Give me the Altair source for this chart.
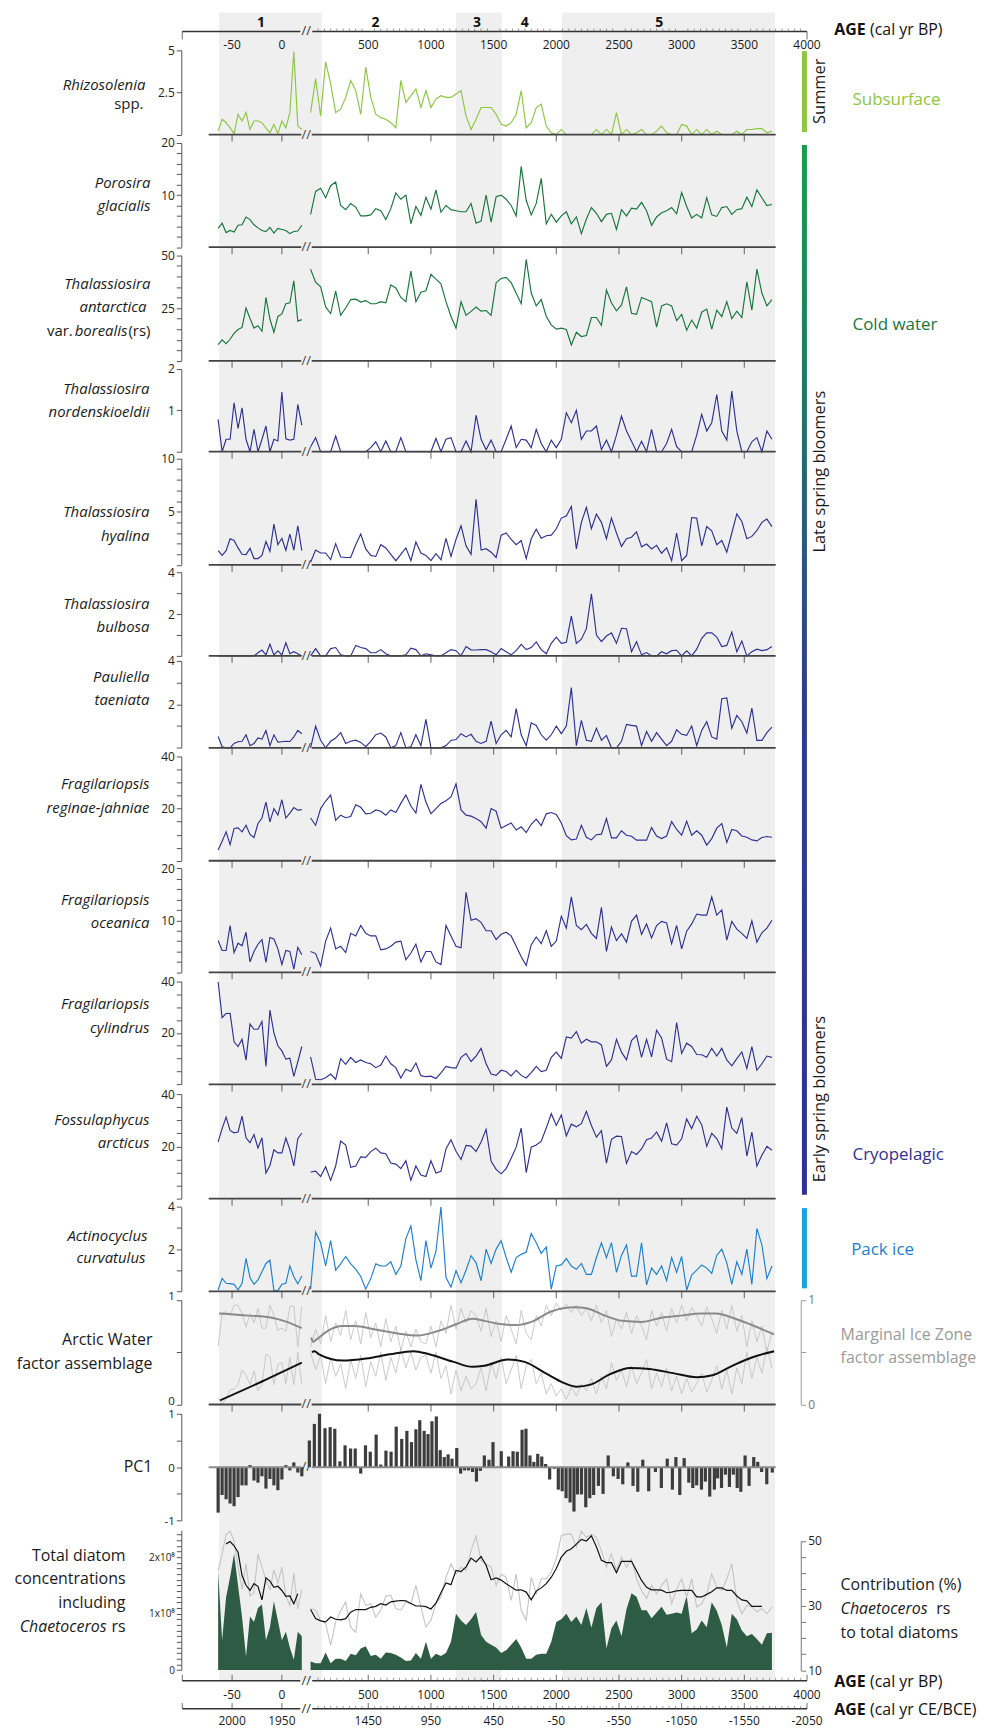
import altair as alt
import pandas as pd

# ---------------- sample ages ----------------
AGE_L = [-64, -60, -56, -52, -48, -44, -40, -36, -32, -28, -24, -20, -16, -12, -8, -4, 0, 4, 8, 12, 16, 20]
AGE_R = [40, 80, 120, 160, 200, 240, 280, 320, 360, 400, 440, 480, 520, 560, 600, 640, 680, 720, 760, 800,
         840, 880, 920, 960, 1000, 1040, 1080, 1120, 1160, 1200, 1240, 1280, 1320, 1360, 1400, 1440, 1480, 1520,
         1560, 1600, 1640, 1680, 1720, 1760, 1800, 1840, 1880, 1920, 1960, 2000, 2040, 2080, 2120, 2160, 2200,
         2240, 2280, 2320, 2360, 2400, 2440, 2480, 2520, 2560, 2600, 2640, 2680, 2720, 2760, 2800, 2840, 2880,
         2920, 2960, 3000, 3040, 3080, 3120, 3160, 3200, 3240, 3280, 3320, 3360, 3400, 3440, 3480, 3520, 3560,
         3600, 3640, 3680, 3720]

# ---------------- species series ----------------
RHIZO_L = [0.2, 0.9, 0.7, 0.4, 0.05, 1.2, 0.8, 1.3, 0.3, 0.8, 0.8, 0.7, 0.4, 0.1, 0.6, 0.05, 0.8, 0.4, 1.3, 4.9, 0.5, 0.3]
RHIZO_R = [1.3, 3.3, 1.1, 4.3, 3.0, 1.3, 1.5, 2.2, 3.2, 2.6,
           1.2, 4.0, 2.2, 1.2, 1.0, 0.9, 0.7, 0.4, 3.2, 1.9,
           2.3, 2.7, 1.6, 2.6, 1.6, 2.1, 2.3, 2.2, 2.2, 2.4,
           2.6, 1.1, 0.3, 0.9, 1.6, 1.6, 1.6, 1.2, 0.6, 0.5,
           0.7, 1.2, 2.6, 0.4, 0.7, 1.6, 1.8, 0.5, 0.1, 0.0,
           0.3, 0.0, 0.0, 0.0, 0.0, 0.0, 0.0, 0.3, 0.0, 0.3,
           0.0, 1.3, 0.0, 0.3, 0.0, 0.1, 0.3, 0.0, 0.0, 0.2,
           0.5, 0.1, 0.0, 0.0, 0.6, 0.5, 0.0, 0.3, 0.0, 0.3,
           0.0, 0.2, 0.0, 0.0, 0.0, 0.2, 0.0, 0.3, 0.3, 0.35,
           0.35, 0.1, 0.2]

POROS_L = [3.6, 4.6, 2.8, 3.2, 2.9, 4.2, 4.3, 5.8, 5.3, 4.3, 3.7, 3.2, 3.0, 3.8, 2.7, 3.6, 3.4, 3.2, 2.6, 3.0, 3.1, 4.2]
POROS_R = [6.3, 10.7, 11.3, 9.5, 11.8, 12.5, 8.0, 7.2, 8.4, 7.7,
           6.0, 6.0, 6.2, 7.4, 7.0, 5.3, 7.4, 10.4, 9.2, 10.0,
           4.5, 7.8, 6.1, 9.6, 7.3, 11.0, 6.7, 8.0, 7.2, 7.0,
           6.8, 6.8, 8.4, 4.6, 5.0, 10.0, 4.8, 9.7, 10.0, 9.2,
           8.0, 6.0, 15.5, 9.0, 6.2, 8.4, 13.2, 4.5, 6.3, 4.8,
           6.0, 6.8, 4.5, 5.8, 2.6, 5.4, 7.6, 6.5, 4.9, 6.3,
           6.5, 3.4, 7.2, 6.0, 7.5, 7.3, 8.6, 7.0, 4.2, 5.8,
           6.6, 7.0, 7.6, 6.4, 10.5, 7.8, 5.6, 6.3, 5.6, 9.5,
           6.2, 5.9, 7.6, 7.8, 6.3, 7.2, 7.4, 9.6, 7.8, 11.0,
           9.5, 8.0, 8.2]

TANT_L = [7.7, 9.9, 8.1, 10.2, 13.0, 14.8, 15.8, 25.0, 20.0, 15.5, 16.6, 14.0, 30.0, 19.8, 13.5, 21.0, 22.2, 27.0, 27.5, 37.9, 18.8, 19.5]
TANT_R = [43.4, 37.2, 35.0, 25.5, 22.4, 33.0, 21.5, 25.0, 29.0, 29.2,
          27.8, 28.5, 27.0, 27.0, 28.0, 27.5, 36.0, 34.5, 30.0, 28.0,
          42.5, 28.0, 32.5, 33.2, 41.0, 38.7, 36.5, 28.0, 21.0, 15.5,
          28.0, 21.5, 23.4, 25.5, 23.5, 23.8, 21.5, 37.0, 39.0, 39.5,
          37.0, 32.0, 27.0, 48.0, 32.1, 26.0, 29.0, 21.0, 17.0, 15.0,
          15.5, 14.8, 7.5, 13.5, 11.5, 12.0, 20.5, 20.5, 16.8, 33.5,
          27.5, 23.7, 26.5, 35.0, 22.5, 22.0, 30.0, 29.0, 28.0, 16.0,
          26.0, 27.0, 26.0, 19.0, 22.0, 14.5, 19.3, 15.5, 23.0, 24.5,
          15.0, 24.0, 21.0, 28.0, 20.0, 23.5, 20.5, 37.4, 24.0, 43.4,
          32.1, 26.0, 29.0]

TNORD_L = [0.78, 0.0, 0.3, 0.3, 1.18, 0.56, 1.06, 0.3, 0.0, 0.54, 0.0, 0.3, 0.62, 0.0, 0.3, 0.26, 1.44, 0.31, 0.28, 0.3, 1.14, 0.64]
TNORD_R = [0.12, 0.34, 0.0, 0.0, 0.0, 0.38, 0.0, 0.0, 0.0, 0.0,
           0.0, 0.0, 0.1, 0.24, 0.0, 0.26, 0.0, 0.0, 0.34, 0.0,
           0.0, 0.0, 0.0, 0.0, 0.0, 0.32, 0.0, 0.3, 0.34, 0.0,
           0.0, 0.26, 0.0, 0.88, 0.3, 0.05, 0.28, 0.0, 0.0, 0.3,
           0.62, 0.1, 0.3, 0.28, 0.1, 0.54, 0.2, 0.0, 0.28, 0.1,
           0.3, 0.94, 0.7, 1.0, 0.3, 0.5, 0.5, 0.62, 0.05, 0.28,
           0.0, 0.4, 0.86, 0.5, 0.25, 0.0, 0.25, 0.0, 0.54, 0.0,
           0.0, 0.2, 0.54, 0.12, 0.0, 0.0, 0.0, 0.4, 0.9, 0.5,
           0.7, 1.38, 0.5, 0.28, 1.46, 0.5, 0.0, 0.0, 0.24, 0.34,
           0.0, 0.5, 0.3]

THYAL_L = [1.34, 0.9, 1.34, 2.46, 2.3, 1.6, 1.0, 0.97, 1.56, 0.6, 0.6, 0.9, 2.2, 1.28, 3.83, 1.9, 2.5, 1.37, 2.9, 1.4, 3.68, 1.34]
THYAL_R = [0.25, 1.4, 1.12, 1.12, 0.5, 2.0, 0.75, 0.7, 0.7, 1.9,
           2.9, 1.5, 0.9, 0.8, 1.9, 1.6, 1.0, 0.4, 1.0, 1.6,
           0.4, 2.15, 1.12, 0.9, 0.4, 1.06, 0.5, 2.5, 0.8, 2.4,
           3.68, 1.8, 1.0, 6.17, 1.4, 1.53, 1.2, 0.7, 2.8, 3.0,
           2.4, 1.9, 2.3, 0.6, 2.46, 3.36, 2.5, 2.74, 2.8, 3.4,
           4.4, 4.6, 5.5, 1.5, 4.0, 5.4, 3.4, 4.77, 4.0, 2.46,
           4.4, 3.0, 1.74, 2.46, 2.6, 3.1, 1.7, 1.96, 1.5, 1.84,
           1.1, 1.6, 0.4, 3.0, 0.4, 0.9, 4.45, 4.4, 1.8, 3.6,
           3.2, 1.9, 2.3, 1.2, 3.0, 4.8, 4.08, 2.46, 2.68, 3.24,
           4.0, 4.3, 3.6]

TBULB_L = [0.0, 0.0, 0.0, 0.0, 0.0, 0.0, 0.0, 0.0, 0.0, 0.0, 0.15, 0.28, 0.05, 0.56, 0.05, 0.24, 0.05, 0.63, 0.1, 0.2, 0.1, 0.0]
TBULB_R = [0.0, 0.35, 0.0, 0.0, 0.35, 0.4, 0.05, 0.0, 0.0, 0.5,
           0.4, 0.35, 0.15, 0.15, 0.3, 0.1, 0.0, 0.0, 0.0, 0.05,
           0.37, 0.3, 0.0, 0.1, 0.05, 0.0, 0.0, 0.15, 0.3, 0.25,
           0.0, 0.45, 0.29, 0.28, 0.3, 0.3, 0.2, 0.05, 0.35, 0.2,
           0.05, 0.25, 0.55, 0.3, 0.4, 0.67, 0.3, 0.1, 0.6, 0.9,
           0.6, 0.65, 1.9, 0.6, 0.8, 1.3, 2.97, 1.0, 0.68, 0.95,
           1.1, 0.6, 1.32, 1.3, 0.2, 0.68, 0.05, 0.16, 0.0, 0.0,
           0.2, 0.1, 0.25, 0.27, 0.0, 0.24, 0.0, 0.32, 0.84, 1.1,
           1.1, 0.9, 0.45, 0.5, 1.14, 0.2, 0.71, 0.0, 0.2, 0.32,
           0.25, 0.3, 0.45]

PAUL_L = [0.52, 0.05, 0.0, 0.0, 0.2, 0.28, 0.3, 0.6, 0.1, 0.2, 0.45, 0.4, 0.8, 0.1, 0.6, 0.26, 0.28, 0.3, 0.29, 0.5, 0.8, 0.65]
PAUL_R = [0.0, 1.0, 0.35, 0.0, 0.3, 0.45, 0.7, 0.2, 0.3, 0.35,
          0.25, 0.05, 0.3, 0.6, 0.68, 0.5, 0.0, 0.1, 0.7, 0.0,
          0.05, 0.6, 0.1, 1.31, 0.0, 0.0, 0.0, 0.1, 0.34, 0.38,
          0.65, 0.5, 0.62, 0.3, 0.2, 0.3, 1.23, 0.2, 0.6, 0.8,
          0.5, 1.8, 0.6, 0.1, 1.15, 1.03, 0.6, 0.35, 0.6, 1.0,
          0.65, 1.0, 2.77, 0.1, 1.26, 0.35, 0.3, 0.9, 0.35, 0.57,
          0.0, 0.0, 0.3, 1.08, 1.03, 1.0, 0.1, 0.75, 0.3, 0.7,
          0.4, 0.1, 0.3, 0.83, 0.62, 0.57, 1.0, 0.1, 0.8, 1.2,
          0.5, 0.4, 2.26, 2.3, 0.9, 1.49, 1.2, 0.68, 1.83, 0.34,
          0.34, 0.7, 0.95]

FREG_L = [4.1, 7.5, 11.1, 6.2, 12.4, 12.6, 11.1, 13.6, 10.1, 8.9, 14.3, 16.4, 22.5, 14.9, 20.0, 17.5, 23.4, 16.4, 18.3, 20.4, 19.4, 19.6]
FREG_R = [16.4, 13.6, 20.0, 22.9, 25.2, 15.5, 17.5, 16.5, 17.0, 21.5,
          20.5, 18.0, 18.2, 19.5, 19.0, 17.5, 19.5, 18.5, 22.0, 25.2,
          21.0, 18.3, 29.3, 22.5, 18.0, 20.0, 22.0, 23.0, 24.5, 29.5,
          19.5, 17.5, 17.1, 16.2, 15.0, 12.5, 20.0, 19.0, 12.5, 13.5,
          14.5, 11.8, 13.0, 10.8, 14.0, 16.0, 13.5, 18.0, 18.5, 17.8,
          14.5, 9.6, 8.0, 8.3, 13.6, 9.0, 8.0, 10.0, 10.2, 16.2,
          8.8, 8.8, 11.5, 9.8, 9.4, 7.9, 7.9, 7.9, 12.7, 9.5,
          8.5, 9.5, 15.0, 12.0, 9.8, 15.2, 9.8, 11.5, 9.8, 6.0,
          8.5, 12.5, 14.3, 7.0, 12.0, 11.5, 9.5, 9.0, 8.0, 7.6,
          8.9, 9.3, 9.0]

FOCE_L = [6.1, 4.2, 4.2, 9.0, 3.8, 5.6, 5.1, 7.7, 2.0, 4.0, 5.4, 6.3, 1.9, 6.7, 6.4, 4.5, 1.5, 4.2, 4.0, 0.6, 4.8, 3.4]
FOCE_R = [4.0, 3.6, 1.2, 6.0, 8.5, 4.5, 5.0, 3.8, 7.5, 7.0,
          9.0, 7.5, 7.0, 7.0, 4.3, 4.5, 5.0, 5.8, 6.0, 2.4,
          3.7, 5.4, 2.0, 4.0, 4.0, 2.0, 1.5, 9.0, 7.0, 5.0,
          4.7, 15.4, 10.0, 10.3, 9.6, 8.0, 8.0, 6.3, 7.3, 7.7,
          7.0, 5.0, 3.0, 1.3, 5.3, 6.8, 5.5, 8.0, 5.0, 6.0,
          10.8, 8.5, 14.5, 9.0, 8.2, 9.2, 7.5, 6.5, 12.5, 4.0,
          8.7, 6.1, 7.4, 5.8, 9.8, 11.0, 7.3, 9.3, 6.6, 9.0,
          9.8, 9.5, 5.5, 9.0, 4.5, 7.9, 9.3, 11.2, 11.0, 11.0,
          14.5, 11.0, 12.0, 6.2, 9.8, 8.3, 7.5, 6.5, 9.9, 5.8,
          7.6, 8.5, 10.0]

FCYL_L = [39.7, 25.9, 27.5, 27.6, 16.5, 14.7, 17.5, 9.4, 23.4, 21.4, 21.4, 24.4, 7.0, 28.8, 20.0, 15.0, 13.0, 9.8, 10.2, 3.1, 8.8, 14.7]
FCYL_R = [10.7, 2.0, 1.8, 2.6, 4.0, 2.0, 10.0, 7.8, 10.5, 8.5,
          9.5, 8.5, 8.0, 6.5, 7.5, 11.0, 8.0, 6.5, 2.5, 5.9,
          5.0, 8.3, 3.4, 3.0, 3.2, 2.3, 4.5, 7.0, 6.5, 6.3,
          10.5, 12.0, 8.9, 11.0, 14.0, 8.0, 4.0, 3.5, 5.5, 5.0,
          3.3, 5.5, 3.5, 2.5, 4.6, 7.0, 5.0, 5.5, 10.5, 12.5,
          10.1, 18.4, 18.0, 20.5, 16.0, 17.5, 16.5, 16.5, 15.3, 7.0,
          9.5, 17.5, 12.5, 9.5, 17.0, 19.0, 10.5, 17.5, 10.7, 21.0,
          18.0, 9.8, 8.8, 24.0, 12.0, 16.0, 14.7, 11.6, 11.5, 10.5,
          14.0, 11.0, 14.0, 9.5, 7.2, 10.0, 12.6, 6.2, 14.7, 5.5,
          8.0, 11.0, 10.5]

FOSS_L = [21.7, 26.8, 31.2, 26.1, 25.2, 25.5, 31.6, 23.3, 21.4, 24.5, 19.4, 23.3, 9.8, 12.7, 18.7, 17.5, 17.5, 23.2, 18.7, 12.5, 22.9, 25.1]
FOSS_R = [10.2, 10.5, 8.5, 12.2, 7.0, 12.5, 22.0, 20.5, 12.0, 12.5,
          16.0, 15.8, 18.0, 19.3, 17.5, 17.2, 13.6, 13.2, 11.5, 14.5,
          7.0, 12.5, 9.0, 8.5, 14.5, 9.8, 10.5, 19.0, 22.5, 18.1,
          15.0, 20.4, 20.1, 18.0, 21.7, 26.5, 14.3, 11.2, 9.5, 11.5,
          15.5, 19.7, 27.0, 10.0, 19.7, 20.5, 22.0, 27.0, 32.5, 28.0,
          32.0, 24.0, 28.5, 27.5, 28.7, 33.4, 28.0, 23.5, 26.0, 13.6,
          22.7, 23.9, 23.8, 13.5, 18.0, 16.9, 19.0, 22.5, 23.2, 25.5,
          22.0, 29.0, 21.0, 20.5, 22.9, 30.5, 26.8, 31.5, 28.3, 20.0,
          25.0, 23.0, 19.1, 35.0, 27.0, 25.0, 31.0, 16.3, 25.5, 12.5,
          16.6, 20.0, 18.5]

ACTI_L = [0.06, 0.61, 0.38, 0.36, 0.33, 0.06, 0.38, 1.56, 0.65, 0.33, 0.54, 0.93, 1.32, 1.48, 0.03, 0.03, 0.33, 0.38, 1.2, 0.69, 0.35, 0.72]
ACTI_R = [0.1, 2.8, 2.3, 1.2, 2.4, 1.0, 1.3, 1.65, 1.3, 1.05,
          0.7, 0.1, 0.6, 1.3, 1.2, 1.2, 1.4, 0.8, 1.2, 2.5,
          3.1, 1.5, 0.5, 2.4, 1.1, 1.9, 4.0, 0.65, 0.2, 0.98,
          0.4, 1.0, 1.69, 1.35, 0.5, 2.0, 1.32, 2.0, 2.4, 1.6,
          0.9, 1.6, 1.75, 1.85, 2.74, 2.3, 1.8, 2.1, 0.1, 1.2,
          1.25, 1.55, 1.2, 1.04, 1.32, 0.8, 0.8, 1.6, 2.3, 1.59,
          2.31, 0.9, 1.7, 2.2, 0.72, 0.72, 2.3, 0.3, 1.1, 0.8,
          1.2, 0.5, 1.6, 0.9, 1.65, 0.05, 0.77, 1.0, 1.25, 1.1,
          0.85, 1.7, 2.0, 1.35, 0.33, 1.4, 0.8, 2.0, 0.33, 2.98,
          2.2, 0.6, 1.2]

# ---------------- factor assemblages ----------------
MIZ_RAW_L = [0.56, 0.87, 0.89, 0.85, 0.95, 0.95, 0.87, 0.74, 0.87, 0.78, 0.92, 0.73, 0.73, 0.95, 0.85, 0.71, 0.73, 0.7, 0.94, 0.94, 0.55, 0.94]
MIZ_RAW_R = [0.55, 0.72, 0.58, 0.85, 0.6, 0.78, 0.66, 0.9, 0.62, 0.8,
             0.58, 0.88, 0.64, 0.78, 0.55, 0.82, 0.6, 0.75, 0.52, 0.7,
             0.55, 0.72, 0.6, 0.58, 0.75, 0.55, 0.8, 0.68, 0.95, 0.72,
             0.92, 0.78, 0.9, 0.85, 0.7, 0.92, 0.65, 0.8, 0.6, 0.85,
             0.72, 0.58, 0.9, 0.68, 0.62, 0.85, 0.75, 0.95, 0.85, 0.97,
             0.9, 0.96, 0.88, 0.95, 0.85, 0.92, 0.8, 0.95, 0.78, 0.9,
             0.65, 0.82, 0.72, 0.88, 0.68, 0.85, 0.75, 0.62, 0.9, 0.75,
             0.88, 0.7, 0.92, 0.78, 0.95, 0.8, 0.93, 0.85, 0.75, 0.93,
             0.82, 0.68, 0.9, 0.72, 0.95, 0.7, 0.85, 0.55, 0.8, 0.6,
             0.75, 0.5, 0.7]
ARC_RAW_L = [0.06, 0.0, 0.06, 0.14, 0.15, 0.19, 0.33, 0.28, 0.19, 0.32, 0.13, 0.19, 0.48, 0.46, 0.19, 0.38, 0.4, 0.2, 0.45, 0.19, 0.5, 0.19]
ARC_RAW_R = [0.5, 0.33, 0.47, 0.2, 0.45, 0.27, 0.39, 0.15, 0.43, 0.25,
             0.47, 0.17, 0.41, 0.27, 0.5, 0.23, 0.45, 0.3, 0.53, 0.35,
             0.5, 0.33, 0.45, 0.47, 0.3, 0.5, 0.25, 0.37, 0.1, 0.33,
             0.13, 0.27, 0.15, 0.2, 0.35, 0.13, 0.4, 0.25, 0.45, 0.2,
             0.33, 0.47, 0.15, 0.37, 0.43, 0.2, 0.3, 0.1, 0.2, 0.08,
             0.15, 0.05, 0.17, 0.08, 0.2, 0.13, 0.25, 0.1, 0.27, 0.15,
             0.4, 0.23, 0.33, 0.17, 0.37, 0.2, 0.3, 0.43, 0.15, 0.3,
             0.17, 0.35, 0.13, 0.27, 0.1, 0.25, 0.12, 0.2, 0.3, 0.12,
             0.23, 0.37, 0.15, 0.33, 0.1, 0.35, 0.2, 0.5, 0.25, 0.45,
             0.3, 0.55, 0.35]

MIZ_SM_AGE_L = [-63, -33, -10, 5, 20]
MIZ_SM_L = [0.87, 0.85, 0.83, 0.79, 0.73]
MIZ_SM_AGE_R = [45, 60, 85, 171, 296, 390, 547, 735, 892, 1049, 1206, 1332, 1426, 1551, 1677, 1802, 1959,
                2147, 2242, 2367, 2524, 2681, 2838, 2995, 3152, 3277, 3403, 3560, 3738]
MIZ_SM_R = [0.64, 0.60, 0.62, 0.70, 0.75, 0.75, 0.72, 0.68, 0.66, 0.70, 0.77, 0.82, 0.80, 0.77, 0.76, 0.79,
            0.89, 0.93, 0.92, 0.86, 0.80, 0.79, 0.83, 0.85, 0.87, 0.87, 0.83, 0.76, 0.67]
ARC_SM_AGE_L = [-62, -20, 20]
ARC_SM_L = [0.04, 0.22, 0.40]
ARC_SM_AGE_R = [51, 70, 108, 296, 484, 673, 861, 986, 1175, 1332, 1426, 1614, 1740, 1928, 2053, 2163, 2273,
                2430, 2587, 2744, 2932, 3120, 3245, 3403, 3560, 3738]
ARC_SM_R = [0.50, 0.51, 0.48, 0.42, 0.44, 0.48, 0.51, 0.48, 0.41, 0.36, 0.37, 0.43, 0.41, 0.29, 0.21, 0.17,
            0.19, 0.29, 0.35, 0.34, 0.30, 0.26, 0.28, 0.37, 0.45, 0.51]

# ---------------- PC1 ----------------
PC1_L = [-0.85, -0.52, -0.6, -0.68, -0.73, -0.56, -0.34, -0.34, 0.04, -0.25, -0.29, -0.17, -0.4, -0.22, -0.34, -0.43, -0.23, 0.04, -0.06, 0.09, -0.1, -0.17]
PC1_AGE_R = [30, 70, 111, 155, 196, 233, 274, 315, 359, 396, 440, 478, 516, 563, 600, 641, 682, 723, 767, 808,
             845, 880, 911, 946, 977, 1008, 1043, 1074, 1106, 1137, 1168, 1206, 1237, 1269, 1300, 1332, 1363,
             1394, 1426, 1463, 1495, 1526, 1561, 1620, 1655, 1689, 1727, 1758, 1790, 1821, 1852, 1884, 1915,
             1947, 1984, 2016, 2047, 2078, 2110, 2141, 2169, 2201, 2235, 2267, 2298, 2336, 2373, 2414, 2455,
             2493, 2530, 2571, 2612, 2650, 2690, 2737, 2791, 2838, 2885, 2926, 2954, 2985, 3020, 3057, 3089,
             3120, 3158, 3189, 3224, 3261, 3287, 3318, 3349, 3381, 3412, 3443, 3472, 3506, 3538, 3575, 3607,
             3638, 3679, 3723]
PC1_R = [0.5, 0.81, 1.0, 0.73, 0.75, 0.72, 0.11, 0.41, 0.35, 0.35,
         -0.12, 0.41, 0.29, 0.61, 0.05, 0.31, 0.29, 0.76, 0.53, 0.68,
         0.47, 0.71, 0.88, 0.68, 0.62, 0.86, 0.95, 0.32, 0.19, 0.24,
         0.16, 0.36, -0.12, -0.06, -0.06, -0.09, -0.27, -0.07, 0.22, 0.14,
         0.47, 0.0, 0.3, 0.2, 0.3, 0.29, 0.7, 0.72, 0.22, 0.1,
         0.25, 0.2, 0.06, -0.23, -0.03, -0.42, -0.45, -0.58, -0.66, -0.83,
         -0.51, -0.51, -0.75, -0.58, -0.52, -0.35, -0.5, 0.22, -0.17, -0.22,
         -0.32, 0.09, -0.35, -0.46, 0.14, -0.45, -0.09, -0.39, 0.16, -0.42,
         0.19, -0.52, 0.17, -0.29, -0.39, -0.34, -0.42, -0.27, -0.55, -0.42,
         -0.21, -0.39, -0.14, -0.37, -0.14, -0.39, -0.46, 0.22, -0.35, 0.19,
         0.1, -0.09, -0.32, -0.1]

# ---------------- total diatoms (x10^8) and Chaetoceros contribution (%) ----------------
TOT_L = [1.76, 0.53, 1.29, 1.65, 2.06, 1.5, 0.94, 0.24, 0.95, 0.85, 1.1, 1.16, 0.53, 0.76, 1.22, 0.88, 0.53, 0.68, 0.4, 0.18, 0.68, 0.6]
TOT_R = [0.15, 0.12, 0.12, 0.31, 0.12, 0.2, 0.2, 0.16, 0.29, 0.26,
         0.38, 0.42, 0.25, 0.27, 0.2, 0.31, 0.3, 0.27, 0.22, 0.16,
         0.17, 0.3, 0.2, 0.5, 0.2, 0.29, 0.25, 0.3, 0.5, 1.0,
         0.88, 0.8, 0.9, 1.03, 0.62, 0.5, 0.45, 0.4, 0.3, 0.35,
         0.45, 0.55, 0.4, 0.2, 0.2, 0.27, 0.29, 0.29, 0.5, 0.85,
         0.9, 1.0, 0.85, 0.95, 0.8, 1.1, 0.75, 1.1, 1.2, 0.38,
         0.74, 0.88, 0.6, 1.08, 1.36, 1.3, 1.06, 1.06, 0.92, 1.02,
         1.12, 0.98, 1.0, 1.02, 1.0, 1.32, 0.65, 0.72, 0.88, 0.76,
         1.2, 1.05, 0.8, 0.4, 1.0, 0.9, 0.7, 0.6, 0.64, 0.55,
         0.45, 0.65, 0.66]
CONTRIB_RAW_L = [40.7, 46, 52, 53, 50, 42, 35, 43, 33, 34, 46, 42, 38, 35, 41, 37, 42, 33, 30, 40, 29, 35]
CONTRIB_RAW_R = [29.1, 28.6, 25.5, 24.5, 17.8, 25.0, 28.4, 31.1, 23.4, 21.8,
                 33.7, 30.1, 30.6, 26.5, 28.6, 32.9, 33.2, 29.1, 28.6, 31.1,
                 30.6, 36.3, 29.6, 23.4, 25.5, 30.6, 32.7, 38.8, 42.9, 39.8,
                 41.9, 40.9, 47.0, 51.6, 44.0, 42.9, 41.9, 36.3, 39.8, 38.8,
                 31.6, 39.8, 28.6, 25.5, 38.8, 33.7, 38.3, 38.3, 40.4, 44.5,
                 51.6, 52.1, 52.1, 48.1, 53.0, 51.1, 52.1, 51.1, 47.0, 41.9,
                 46.0, 40.9, 45.0, 41.9, 44.5, 38.3, 34.7, 32.2, 36.3, 33.7,
                 36.3, 38.3, 30.6, 35.2, 38.3, 32.7, 38.3, 29.6, 30.6, 33.7,
                 39.8, 35.7, 34.7, 38.3, 42.9, 31.6, 27.5, 30.1, 29.6, 28.1,
                 29.1, 27.5, 29.6]
CONTRIB_AVG_L = [None, None, 49.1, 49.8, 48.5, 46.5, 39.3, 36.3, 34.7, 36.8, 36.0, 31.8, 38.6, 37.6, 35.7, 36.0, 34.7, 32.9, 33.0, 30.6, 33.7, None]
CONTRIB_AVG_R = [28.8, 26.0, 25.3, 25.0, 26.5, 25.8, 25.6, 26.0, 28.0, 28.8,
                 28.8, 28.8, 29.5, 29.8, 30.6, 30.2, 31.2, 31.4, 31.6, 31.5,
                 30.7, 29.9, 29.9, 29.7, 29.0, 30.8, 34.0, 37.0, 36.5, 40.9,
                 40.5, 42.0, 44.7, 43.5, 45.2, 42.5, 38.0, 38.6, 37.9, 36.8,
                 35.8, 34.8, 34.9, 34.2, 31.8, 34.5, 35.5, 36.8, 38.8, 41.5,
                 45.0, 46.8, 47.6, 49.0, 50.5, 50.0, 51.6, 48.2, 44.0, 43.3,
                 43.3, 40.2, 43.7, 43.7, 43.7, 40.8, 37.8, 35.7, 34.9, 34.9,
                 34.8, 34.0, 34.2, 34.6, 34.7, 34.7, 34.7, 32.7, 32.7, 33.5,
                 34.3, 35.5, 35.5, 34.7, 34.7, 33.0, 31.8, 31.5, 29.8, 29.8,
                 29.8, None, None]

# ---------------- zones and axis labels ----------------
ZONE_NAMES = ['1', '2', '3', '4', '5']
ZONE_LABEL_AGE = [(-21, 'L'), (558, 'R'), (1368, 'R'), (1749, 'R'), (2822, 'R')]
ZONE_BANDS = [((-63, 'L'), (129, 'R')), ((1200, 'R'), (1565, 'R')), ((2045, 'R'), (3745, 'R'))]
MAJOR_L = [-50, 0]
MAJOR_R = [500, 1000, 1500, 2000, 2500, 3000, 3500, 4000]
BP_LABELS = ['-50', '0', '500', '1000', '1500', '2000', '2500', '3000', '3500', '4000']
CE_LABELS = ['2000', '1950', '1450', '950', '450', '-50', '-550', '-1050', '-1550', '-2050']
MINOR_R = [a for a in range(100, 4000, 50) if a % 500 != 0]

# ---------------- helpers ----------------
RIGHT = 10000
XSCALE = alt.Scale(domain=[-100, 22, RIGHT, RIGHT + 4000], range=[0, 122, 123.8, 627.3], nice=False, zero=False)
FONT = 'Open Sans'
ONE = pd.DataFrame({'a': [0]})


def key(age, side):
    return age if side == 'L' else age + RIGHT


def series_df(left, right, age_l=AGE_L, age_r=AGE_R):
    assert len(left) == len(age_l) and len(right) == len(age_r), (len(left), len(right))
    xs = [key(a, 'L') for a in age_l] + [key(a, 'R') for a in age_r]
    return pd.DataFrame({'xk': xs, 'v': list(left) + list(right),
                         'seg': ['L'] * len(left) + ['R'] * len(right), 'zero': 0.0})


def X(field='xk'):
    return alt.X(f'{field}:Q', scale=XSCALE, axis=None)


def yaxis(values, labels, orient='left', offset=1, color='#555', label_color='#222', size=12, label_offset=0):
    expr = ''.join(f"datum.value == {v} ? '{s}' : " for v, s in labels) + "''"
    return alt.Axis(orient=orient, offset=offset, values=values, labelExpr=expr, title=None, grid=False,
                    tickSize=5, tickColor=color, domainColor=color, labelColor=label_color, tickWidth=1,
                    domainWidth=1, labelFontSize=size, labelFont=FONT, labelPadding=2,
                    labelOverlap=False, labelFlush=False, labelOffset=label_offset)


def ysc(domain, rng):
    return alt.Scale(domain=domain, range=rng, nice=False, zero=False)


def txt(text, x, y, size=15, italic=False, bold=False, align='right', color='#1a1a1a', angle=0):
    kw = dict(text=text, align=align, baseline='middle', fontSize=size, font=FONT,
              fontStyle='italic' if italic else 'normal', fontWeight='bold' if bold else 'normal', color=color)
    if angle:
        kw['angle'] = angle
    return alt.Chart(ONE).mark_text(**kw).encode(x=alt.value(x), y=alt.value(y))


BASE_DF = pd.DataFrame({'x': [key(-73.5, 'L'), key(49, 'R')], 'x2': [key(19.5, 'L'), key(3750, 'R')], 'zero': [0.0, 0.0]})
PTICK_DF = pd.DataFrame({'xk': [key(a, 'L') for a in MAJOR_L] + [key(a, 'R') for a in MAJOR_R[:-1]], 'zero': 0.0})
BRK_DF = pd.DataFrame({'zero': [0.0]})

layers = []

# shaded zones
shade_df = pd.DataFrame({'s': [key(*b[0]) for b in ZONE_BANDS], 'e': [key(*b[1]) for b in ZONE_BANDS]})
layers.append(alt.Chart(shade_df).mark_rect(color='#efefef').encode(
    x=X('s'), x2='e:Q', y=alt.value(-19), y2=alt.value(1656)))

zone_df = pd.DataFrame({'xk': [key(*z) for z in ZONE_LABEL_AGE], 'lab': ZONE_NAMES})
layers.append(alt.Chart(zone_df).mark_text(fontSize=14, fontWeight='bold', font=FONT, color='#111').encode(
    x=X(), y=alt.value(-8), text='lab:N'))

# group bars on the right
GRAD = alt.Gradient(gradient='linear', x1=0, x2=0, y1=0, y2=1, stops=[
    alt.GradientStop(color='#14a04b', offset=0), alt.GradientStop(color='#1c7f5e', offset=0.2),
    alt.GradientStop(color='#28597f', offset=0.38), alt.GradientStop(color='#2e3d90', offset=0.52),
    alt.GradientStop(color='#2e3192', offset=1)])
for (y0, y1, col) in [(19.8, 101, '#8dc63f'), (114, 1168, GRAD), (1181.5, 1262, '#17a3e0')]:
    layers.append(alt.Chart(ONE).mark_rect(color=col).encode(
        x=alt.value(622.2), x2=alt.value(627.2), y=alt.value(y0), y2=alt.value(y1)))

# species panels
GREEN_L = '#8dc63f'
GREEN_D = '#17763d'
BLUE_D = '#2e3192'
BLUE = '#1a80d0'
PANELS = [
    (RHIZO_L, RHIZO_R, [0, 5], [103.5, 18.7], GREEN_L, [0, 2.5, 5], [(2.5, '2.5'), (5, '5')]),
    (POROS_L, POROS_R, [0, 20], [216.6, 112], GREEN_D, list(range(0, 21, 2)), [(10, '10'), (20, '20')]),
    (TANT_L, TANT_R, [0, 50], [330.7, 224.7], GREEN_D, list(range(0, 51, 5)), [(25, '25'), (50, '50')]),
    (TNORD_L, TNORD_R, [0, 2], [422, 338.7], BLUE_D, [0, 1, 2], [(1, '1'), (2, '2')]),
    (THYAL_L, THYAL_R, [0, 10], [535.7, 428.7], BLUE_D, list(range(0, 11)), [(5, '5'), (10, '10')]),
    (TBULB_L, TBULB_R, [0, 4], [627, 543], BLUE_D, [0, 1, 2, 3, 4], [(2, '2'), (4, '4')]),
    (PAUL_L, PAUL_R, [0, 4], [719.3, 632], BLUE_D, [0, 1, 2, 3, 4], [(2, '2'), (4, '4')]),
    (FREG_L, FREG_R, [0, 40], [832.7, 728], BLUE_D, list(range(0, 41, 5)), [(20, '20'), (40, '40')]),
    (FOCE_L, FOCE_R, [0, 20], [944.7, 840.3], BLUE_D, list(range(0, 21, 2)), [(10, '10'), (20, '20')]),
    (FCYL_L, FCYL_R, [0, 40], [1057.3, 953.7], BLUE_D, list(range(0, 41, 5)), [(20, '20'), (40, '40')]),
    (FOSS_L, FOSS_R, [0, 40], [1172, 1067], BLUE_D, list(range(0, 41, 5)), [(20, '20'), (40, '40')]),
    (ACTI_L, ACTI_R, [0, 4], [1265, 1180.3], BLUE, [0, 1, 2, 3, 4], [(2, '2'), (4, '4')]),
]


def baseline_layers(sc, color='#444', width=1.8, ticks=True):
    out = [alt.Chart(BASE_DF).mark_rule(color=color, strokeWidth=width).encode(
        x=X('x'), x2='x2:Q', y=alt.Y('zero:Q', scale=sc, axis=None))]
    if ticks:
        out.append(alt.Chart(PTICK_DF).mark_tick(orient='vertical', color=color, size=7, thickness=1.2, yOffset=3.5).encode(
            x=X(), y=alt.Y('zero:Q', scale=sc, axis=None)))
    out.append(alt.Chart(BRK_DF).mark_text(text='//', fontSize=13, font=FONT, color='#444').encode(
        x=alt.value(124.5), y=alt.Y('zero:Q', scale=sc, axis=None)))
    return out


for (L, R, dom, rng, col, tv, lab) in PANELS:
    sc = ysc(dom, rng)
    df = series_df(L, R)
    layers.append(alt.Chart(df).mark_line(color=col, strokeWidth=1.15).encode(
        x=X(), y=alt.Y('v:Q', scale=sc, axis=yaxis(tv, lab)), detail='seg:N'))
    layers.extend(baseline_layers(sc))

# Arctic water / MIZ factor panel
sc_f = ysc([0, 1], [1378.7, 1273.7])
for (L, R) in [(MIZ_RAW_L, MIZ_RAW_R), (ARC_RAW_L, ARC_RAW_R)]:
    layers.append(alt.Chart(series_df(L, R)).mark_line(color='#c4c4c4', strokeWidth=0.9).encode(
        x=X(), y=alt.Y('v:Q', scale=sc_f, axis=None), detail='seg:N'))
layers.append(alt.Chart(series_df(MIZ_SM_L, MIZ_SM_R, MIZ_SM_AGE_L, MIZ_SM_AGE_R)).mark_line(
    color='#8a8a8a', strokeWidth=2, interpolate='monotone').encode(
    x=X(), y=alt.Y('v:Q', scale=sc_f, axis=yaxis([0, 0.5, 1], [(0, '0'), (1, '1')], orient='right', offset=-7,
                                                  color='#999', label_color='#777')), detail='seg:N'))
layers.append(alt.Chart(series_df(ARC_SM_L, ARC_SM_R, ARC_SM_AGE_L, ARC_SM_AGE_R)).mark_line(
    color='#111', strokeWidth=2, interpolate='monotone').encode(
    x=X(), y=alt.Y('v:Q', scale=sc_f, axis=yaxis([0, 0.5, 1], [(0, '0'), (1, '1')], size=11.5, label_offset=-3)),
    detail='seg:N'))
layers.extend(baseline_layers(sc_f))

# PC1 panel
sc_p = ysc([-1, 1], [1495.3, 1388])
layers.append(alt.Chart(series_df(PC1_L, PC1_R, AGE_L, PC1_AGE_R)).mark_rule(color='#3c3c3c', strokeWidth=3.2).encode(
    x=X(), y=alt.Y('v:Q', scale=sc_p, axis=yaxis([-1, -0.5, 0, 0.5, 1], [(-1, '-1'), (0, '0'), (1, '1')],
                                                 size=11.5, label_offset=1)),
    y2='zero:Q'))
layers.extend(baseline_layers(sc_p, color='#8a8a8a', width=2, ticks=False))

# total diatoms panel
sc_t = ysc([0, 2.48], [1645.3, 1504.9])
sc_c = ysc([10, 50], [1645.7, 1515.7])
layers.append(alt.Chart(series_df(TOT_L, TOT_R)).mark_area(color='#2d5b43', opacity=1).encode(
    x=X(), y=alt.Y('v:Q', scale=sc_t, axis=yaxis([round(i * 0.1, 1) for i in range(25)],
                                                 [(0, '0'), (1, '1x10⁸'), (2, '2x10⁸')], size=10)),
    y2='zero:Q', detail='seg:N'))
layers.append(alt.Chart(series_df(CONTRIB_RAW_L, CONTRIB_RAW_R)).mark_line(color='#c4c4c4', strokeWidth=1.1).encode(
    x=X(), y=alt.Y('v:Q', scale=sc_c, axis=None), detail='seg:N'))
layers.append(alt.Chart(series_df(CONTRIB_AVG_L, CONTRIB_AVG_R)).mark_line(color='#111', strokeWidth=1.2).encode(
    x=X(), y=alt.Y('v:Q', scale=sc_c, axis=yaxis(list(range(10, 51, 5)), [(10, '10'), (30, '30'), (50, '50')],
                                                 orient='right', offset=-7, color='#777')), detail='seg:N'))

# custom age axes (top BP, bottom BP, bottom CE)
AXLINE_DF = pd.DataFrame({'x': [key(-100, 'L'), key(53, 'R')], 'x2': [key(18.5, 'L'), key(4000, 'R')]})
major_keys = [key(a, 'L') for a in MAJOR_L] + [key(a, 'R') for a in MAJOR_R]
minor_keys = [key(a, 'R') for a in MINOR_R]
for (yl, labels, ylab, top) in [(0, BP_LABELS, 13.7, True), (1656, BP_LABELS, 1670, False), (1684.3, CE_LABELS, 1697, False)]:
    layers.append(alt.Chart(AXLINE_DF).mark_rule(color='#333', strokeWidth=1.5).encode(
        x=X('x'), x2='x2:Q', y=alt.value(yl)))
    layers.append(alt.Chart(pd.DataFrame({'xk': minor_keys})).mark_tick(
        orient='vertical', color='#555', size=3, thickness=0.8).encode(x=X(), y=alt.value(yl - 1.5)))
    end_df = pd.DataFrame({'xk': [key(-100, 'L'), key(4000, 'R')]})
    if top:
        layers.append(alt.Chart(end_df).mark_tick(orient='vertical', color='#333', size=8, thickness=1).encode(
            x=X(), y=alt.value(yl + 4)))
    else:
        layers.append(alt.Chart(pd.DataFrame({'xk': [key(-100, 'L')] + major_keys})).mark_tick(
            orient='vertical', color='#333', size=6, thickness=1).encode(x=X(), y=alt.value(yl - 3)))
    layers.append(alt.Chart(pd.DataFrame({'xk': major_keys, 'lab': labels})).mark_text(
        fontSize=12, font=FONT, color='#1a1a1a').encode(x=X(), y=alt.value(ylab), text='lab:N'))
    layers.append(txt('//', 124.5, yl, size=13, align='center', color='#333'))

# axis titles
for (y, unit) in [(-1, '(cal yr BP)'), (1657, '(cal yr BP)'), (1685, '(cal yr CE/BCE)')]:
    layers.append(txt('AGE', 654.6, y, size=16, bold=True, align='left', color='#111'))
    layers.append(txt(unit, 690.5, y, size=16, align='left', color='#111'))

# species labels (left)
SPECIES = [
    [('Rhizosolenia', -37, 53.5, True), ('spp.', -39, 72.5, False)],
    [('Porosira', -32, 152, True), ('glacialis', -32, 175.3, True)],
    [('Thalassiosira', -32, 253.7, True), ('antarctica', -36, 277, True)],
    [('Thalassiosira', -33, 358.7, True), ('nordenskioeldii', -33, 382, True)],
    [('Thalassiosira', -33, 483, True), ('hyalina', -33, 506.5, True)],
    [('Thalassiosira', -33, 575, True), ('bulbosa', -33, 598.5, True)],
    [('Pauliella', -33, 648, True), ('taeniata', -33, 671.5, True)],
    [('Fragilariopsis', -33, 756, True), ('reginae-jahniae', -33, 779.5, True)],
    [('Fragilariopsis', -33, 872, True), ('oceanica', -33, 895.5, True)],
    [('Fragilariopsis', -33, 977, True), ('cylindrus', -33, 1000.5, True)],
    [('Fossulaphycus', -33, 1093, True), ('arcticus', -33, 1116.5, True)],
    [('Actinocyclus', -35, 1209.5, True), ('curvatulus', -37, 1232, True)],
]
for grp in SPECIES:
    for (t, x, y, it) in grp:
        layers.append(txt(t, x, y, size=15, italic=it))
layers.append(txt('(rs)', -32, 300.5, size=15))
layers.append(txt('borealis', -55, 300.5, size=15, italic=True))
layers.append(txt('var.', -110, 300.5, size=15))
layers.append(txt('Arctic Water', -30, 1314.3, size=16))
layers.append(txt('factor assemblage', -30, 1337.7, size=16))
layers.append(txt('PC1', -30, 1441, size=16))
layers.append(txt('Total diatom', -57, 1531, size=16))
layers.append(txt('concentrations', -57, 1554.3, size=16))
layers.append(txt('including', -57, 1578, size=16))
layers.append(txt('Chaetoceros', -76, 1602, size=16, italic=True))
layers.append(txt('rs', -57, 1602, size=16))

# right-hand labels
layers.append(txt('Summer', 640, 60, size=16.5, align='center', angle=270))
layers.append(txt('Late spring bloomers', 640, 442, size=16.5, align='center', angle=270))
layers.append(txt('Early spring bloomers', 640, 1072, size=16.5, align='center', angle=270))
layers.append(txt('Subsurface', 673, 69, size=17, align='left', color='#8dc63f'))
layers.append(txt('Cold water', 673, 295, size=17, align='left', color='#17763d'))
layers.append(txt('Cryopelagic', 673, 1128, size=17, align='left', color='#2e3192'))
layers.append(txt('Pack ice', 671.6, 1223.7, size=17, align='left', color='#1a80d0'))
layers.append(txt('Marginal Ice Zone', 661, 1308.7, size=16, align='left', color='#9a9a9a'))
layers.append(txt('factor assemblage', 661, 1332, size=16, align='left', color='#9a9a9a'))
layers.append(txt('Contribution (%)', 661, 1560.3, size=16, align='left'))
layers.append(txt('Chaetoceros', 661, 1584.3, size=16, italic=True, align='left'))
layers.append(txt('rs', 757, 1584.3, size=16, align='left'))
layers.append(txt('to total diatoms', 661, 1607.7, size=16, align='left'))

chart = alt.layer(*layers).resolve_scale(y='independent').properties(
    width=628, height=1656,
    padding={'left': 175, 'top': 20, 'right': 174, 'bottom': 52},
    autosize=alt.AutoSizeParams(type='none'),
).configure_view(stroke=None)

chart.save('out.html', embed_options={'renderer': 'svg', 'actions': False})
